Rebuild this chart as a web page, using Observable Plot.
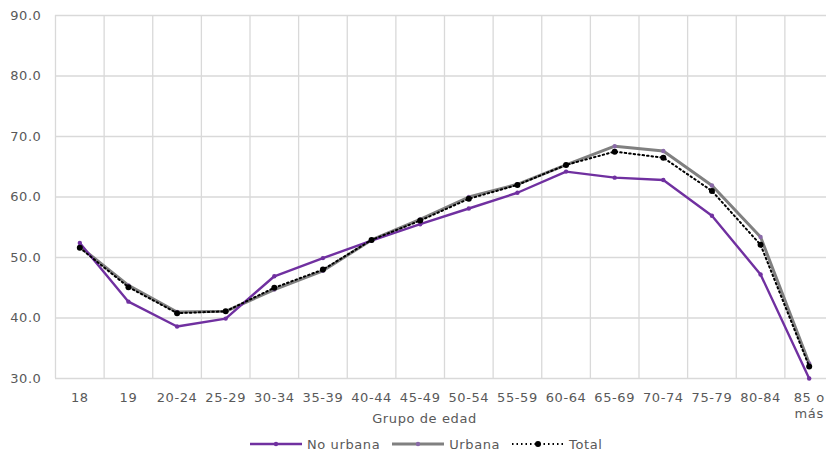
<!DOCTYPE html>
<html>
<head>
<meta charset="utf-8">
<script src="https://cdn.jsdelivr.net/npm/d3@7"></script>
<script src="https://cdn.jsdelivr.net/npm/@observablehq/plot@0.6"></script>
<style>
  html, body { margin: 0; padding: 0; background: #fff; width: 826px; height: 456px; overflow: hidden; }
  #chart svg { display: block; overflow: visible; }
  .legend { display: flex; align-items: center; height: 24px; padding-left: 250px; font-family: "DejaVu Sans", sans-serif; font-size: 13px; letter-spacing: 0.6px; color: #595959; }
  .legend .item { display: flex; align-items: center; margin-right: 12px; }
  .legend svg { margin-right: 5px; }
</style>
</head>
<body>
<div id="chart"></div>
<div class="legend" id="legend"></div>
<script>
const categorias = ["18", "19", "20-24", "25-29", "30-34", "35-39", "40-44", "45-49", "50-54", "55-59", "60-64", "65-69", "70-74", "75-79", "80-84", "85 o más"];
const noUrbana = [52.4, 42.7, 38.6, 39.9, 46.9, 49.9, 52.8, 55.5, 58.1, 60.7, 64.2, 63.2, 62.8, 56.9, 47.2, 30.0];
const urbana   = [51.8, 45.4, 41.0, 41.1, 44.7, 47.8, 52.9, 56.3, 60.0, 62.1, 65.3, 68.4, 67.6, 61.9, 53.4, 32.5];
const total    = [51.6, 45.1, 40.8, 41.1, 45.0, 48.0, 52.9, 56.1, 59.7, 62.0, 65.3, 67.5, 66.5, 61.0, 52.1, 32.0];
const yTicks = [30, 40, 50, 60, 70, 80, 90];
const tituloX = "Grupo de edad";
const series = ["No urbana", "Urbana", "Total"];

const idx = categorias.map((_, i) => i);
const bordes = [...idx.map(i => i - 0.5), categorias.length - 0.5];
const rows = (vals) => vals.map((v, i) => ({i, v}));

const purple = "#7030a0", gray = "#808080", black = "#000000";
const textColor = "#595959";

const chart = Plot.plot({
  width: 826,
  height: 432,
  marginLeft: 55,
  marginRight: -7,
  marginTop: 15,
  marginBottom: 54,
  style: {fontFamily: "DejaVu Sans, sans-serif", fontSize: "13px", color: textColor, letterSpacing: "0.6px", background: "#fff"},
  x: {type: "linear", domain: [-0.5, categorias.length - 0.5], axis: null},
  y: {domain: [30, 90], axis: null},
  marks: [
    Plot.ruleY(yTicks, {stroke: "#d9d9d9", strokeWidth: 1.3}),
    Plot.ruleX(bordes, {stroke: "#d9d9d9", strokeWidth: 1.3}),
    Plot.axisY({ticks: yTicks, tickSize: 0, tickPadding: 14, tickFormat: d => d.toFixed(1), fill: textColor, label: null}),
    Plot.axisX({ticks: idx, tickSize: 0, tickPadding: 12, lineHeight: 1.25,
      tickFormat: i => categorias[i].replace(" o más", " o\nmás"), fill: textColor, label: null}),
    Plot.text([tituloX], {frameAnchor: "bottom", dy: 44, dx: -20, fill: textColor}),
    Plot.line(rows(urbana), {x: "i", y: "v", stroke: gray, strokeWidth: 3}),
    Plot.dot(rows(urbana), {x: "i", y: "v", r: 2.2, fill: "#8a6aa8"}),
    Plot.line(rows(noUrbana), {x: "i", y: "v", stroke: purple, strokeWidth: 2.4}),
    Plot.dot(rows(noUrbana), {x: "i", y: "v", r: 2.2, fill: purple}),
    Plot.line(rows(total), {x: "i", y: "v", stroke: black, strokeWidth: 2, strokeDasharray: "1.5,3"}),
    Plot.dot(rows(total), {x: "i", y: "v", r: 3, fill: black})
  ]
});
document.getElementById("chart").appendChild(chart);

// Legend
const legendStyles = [
  {stroke: purple, width: 2.4, dash: null, marker: purple, r: 2.2},
  {stroke: gray, width: 3, dash: null, marker: "#8a6aa8", r: 2.2},
  {stroke: black, width: 2, dash: "1.5,3", marker: black, r: 3}
];
const legend = document.getElementById("legend");
series.forEach((name, k) => {
  const s = legendStyles[k];
  const item = document.createElement("div");
  item.className = "item";
  item.innerHTML = `<svg width="52" height="12"><line x1="0" x2="52" y1="6" y2="6" stroke="${s.stroke}" stroke-width="${s.width}" ${s.dash ? `stroke-dasharray="${s.dash}"` : ""}/><circle cx="26" cy="6" r="${s.r}" fill="${s.marker}"/></svg><span>${name}</span>`;
  legend.appendChild(item);
});
</script>
</body>
</html>
